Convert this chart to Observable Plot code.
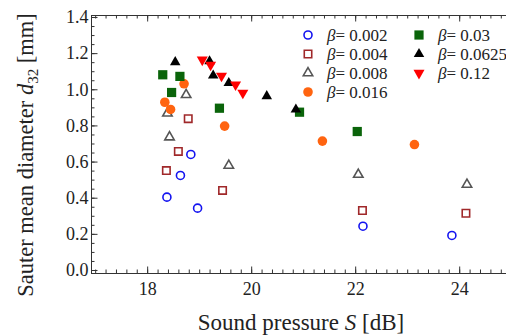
<!DOCTYPE html>
<html><head><meta charset="utf-8">
<script src="https://cdn.jsdelivr.net/npm/d3@7"></script>
<script src="https://cdn.jsdelivr.net/npm/@observablehq/plot@0.6"></script>
<style>
body{margin:0;background:#fff;}
#chart{position:relative;width:506px;height:335px;}
#chart svg{position:absolute;left:0;top:0;}
#chart svg text{font-family:'Liberation Serif','Times New Roman',serif;}
</style></head><body><div id="chart"></div>
<script>
// ---- data ----
const betaLabels = ["0.002","0.004","0.008","0.016","0.03","0.0625","0.12"];
const s_b002  = [18.83,18.63,18.37,18.96,22.14,23.85];
const d_b002  = [0.642,0.526,0.406,0.345,0.245,0.194];
const s_b004  = [18.78,18.59,18.36,19.44,22.13,24.12];
const d_b004  = [0.840,0.659,0.553,0.443,0.332,0.317];
const s_b008  = [18.74,18.38,18.42,19.56,22.05,24.14];
const d_b008  = [0.972,0.870,0.738,0.581,0.531,0.476];
const s_b016  = [18.70,18.33,18.44,19.48,21.36,23.13];
const d_b016  = [1.033,0.931,0.891,0.799,0.716,0.697];
const s_b03   = [18.29,18.62,18.46,19.38,20.92,22.03];
const d_b03   = [1.083,1.074,0.985,0.898,0.876,0.769];
const s_b0625 = [18.53,19.19,19.26,19.56,20.29,20.85];
const d_b0625 = [1.153,1.158,1.079,1.037,0.965,0.891];
const s_b12   = [19.05,19.21,19.42,19.69,19.83];
const d_b12   = [1.166,1.138,1.077,1.028,0.983];
const xTickLabels = [18,20,22,24];
const yTickLabels = [0,0.2,0.4,0.6,0.8,1.0,1.2,1.4];

// ---- styles ----
const seriesS = [s_b002,s_b004,s_b008,s_b016,s_b03,s_b0625,s_b12];
const seriesD = [d_b002,d_b004,d_b008,d_b016,d_b03,d_b0625,d_b12];
const styles = [
  {symbol:"circle",  fill:"none",    stroke:"#1414f0", r:4,   strokeWidth:1.6, rotate:0},
  {symbol:"square",  fill:"none",    stroke:"#a0282a", r:4.2, strokeWidth:1.6, rotate:0},
  {symbol:"triangle",fill:"none",    stroke:"#555555", r:3.5, strokeWidth:1.6, rotate:0},
  {symbol:"circle",  fill:"#ff6410", stroke:"none",    r:4.8, strokeWidth:0,   rotate:0},
  {symbol:"square",  fill:"#0a640a", stroke:"none",    r:5.2, strokeWidth:0,   rotate:0},
  {symbol:"triangle",fill:"#000000", stroke:"none",    r:3.9, strokeWidth:0,   rotate:0},
  {symbol:"triangle",fill:"#ff0000", stroke:"none",    r:4.1, strokeWidth:0,   rotate:180}
];
const tables = seriesS.map((xs,i)=>xs.map((s,j)=>({s, d: seriesD[i][j], beta: betaLabels[i]})));

const W=506, H=335, mL=91, mT=15, mB=62, mR=0;
const fw=W-mL-mR, fh=H-mT-mB;
const xDomain=[16.92,24.90], yDomain=[-0.0166,1.411];
const xMinor = d3.range(85,125).map(i=>i/5);
const yMinor = d3.range(0,29).map(i=>i/20);
const axisColor = "#333";
const font = "'Liberation Serif','Times New Roman',serif";

const marks = [
  Plot.ruleX([xDomain[0]], {stroke:axisColor}),
  Plot.ruleY([yDomain[0]], {stroke:axisColor}),
  Plot.ruleY([yDomain[1]], {stroke:axisColor}),
  // bottom ticks
  Plot.tickX(xMinor, {x:d=>d, insetTop:fh-3.5, stroke:axisColor}),
  Plot.tickX(xTickLabels, {x:d=>d, insetTop:fh-6.5, stroke:axisColor}),
  // top ticks
  Plot.tickX(xMinor, {x:d=>d, insetBottom:fh-3.5, stroke:axisColor}),
  Plot.tickX(xTickLabels, {x:d=>d, insetBottom:fh-6.5, stroke:axisColor}),
  // left ticks
  Plot.tickY(yMinor, {y:d=>d, insetRight:fw-3.5, stroke:axisColor}),
  Plot.tickY(yTickLabels, {y:d=>d, insetRight:fw-6.5, stroke:axisColor}),
  Plot.axisX(xTickLabels, {tickSize:0, tickPadding:9, fontSize:18, label:null, tickFormat:d3.format("d")}),
  Plot.axisY(yTickLabels, {tickSize:0, tickPadding:3, fontSize:18, label:null, tickFormat:d3.format(".1f")}),
  ...tables.map((t,i)=>Plot.dot(t, {x:"s", y:"d", ...styles[i]}))
];

const svg = Plot.plot({
  width:W, height:H, marginLeft:mL, marginTop:mT, marginBottom:mB, marginRight:mR,
  x:{domain:xDomain}, y:{domain:yDomain},
  style:{fontFamily:font, fontSize:"18px", color:"#222", background:"#fff"},
  marks
});
document.getElementById("chart").appendChild(svg);

// ---- overlay: axis titles and legend ----
const ov = d3.select("#chart").append("svg").attr("width",W).attr("height",H)
  .style("pointer-events","none").style("font-family",font).style("fill","#222");

const xt = ov.append("text").attr("x", 301).attr("y", 330).attr("text-anchor","middle").style("font-size","23px");
xt.append("tspan").text("Sound pressure ");
xt.append("tspan").style("font-style","italic").text("S");
xt.append("tspan").text(" [dB]");

const yt = ov.append("text").attr("transform","translate(33,155) rotate(-90)").attr("text-anchor","middle").style("font-size","22.5px");
yt.append("tspan").text("Sauter mean diameter ");
yt.append("tspan").style("font-style","italic").text("d");
yt.append("tspan").attr("dy",5).style("font-size","15px").text("32");
yt.append("tspan").attr("dy",-5).text(" [mm]");

const legPos = [[308,35],[308,54],[308,73],[308,92],[419,35],[419,54],[419,73]];
betaLabels.forEach((b,i)=>{
  const st = styles[i];
  const [lx,ly] = legPos[i];
  const symMap = {circle:d3.symbolCircle, square:d3.symbolSquare, triangle:d3.symbolTriangle};
  ov.append("path")
    .attr("d", d3.symbol(symMap[st.symbol], st.r*st.r*Math.PI)())
    .attr("transform", `translate(${lx},${ly}) rotate(${st.rotate})`)
    .attr("fill", st.fill).attr("stroke", st.stroke).attr("stroke-width", st.strokeWidth);
  const t = ov.append("text").attr("x", lx+19).attr("y", ly+6).style("font-size","17px");
  t.append("tspan").style("font-style","italic").text("β");
  t.append("tspan").text("= " + b);
});
</script></body></html>
